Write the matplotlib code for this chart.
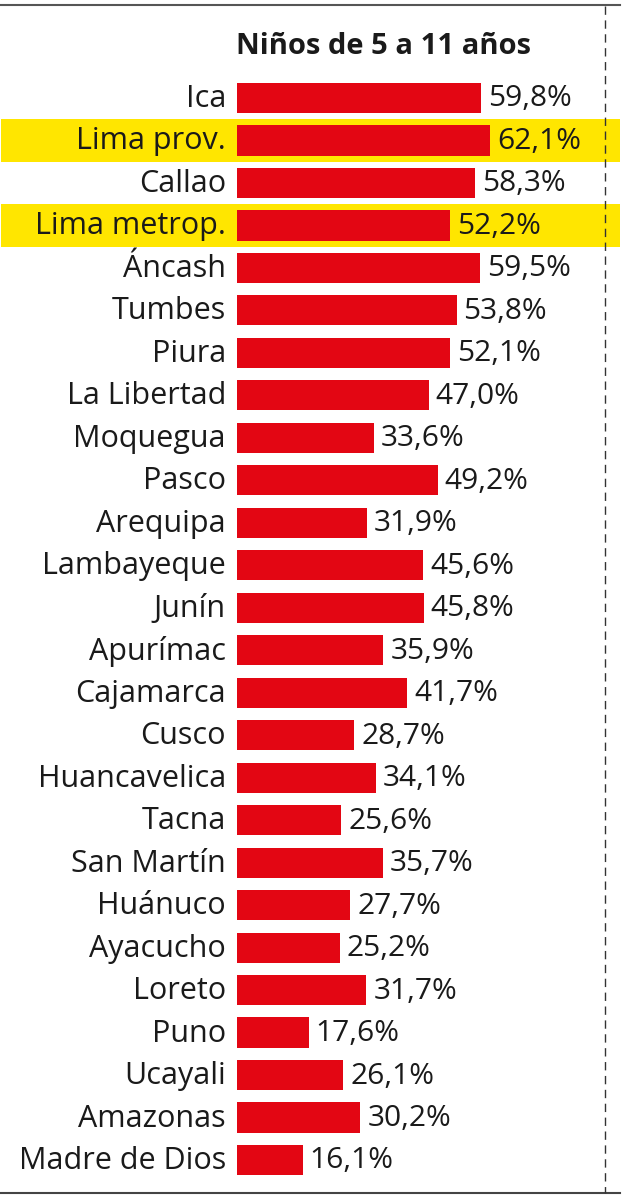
import matplotlib
matplotlib.use("Agg")
import matplotlib.pyplot as plt
from matplotlib.lines import Line2D

regions = ["Ica", "Lima prov.", "Callao", "Lima metrop.", "Áncash", "Tumbes", "Piura",
           "La Libertad", "Moquegua", "Pasco", "Arequipa", "Lambayeque", "Junín",
           "Apurímac", "Cajamarca", "Cusco", "Huancavelica", "Tacna", "San Martín",
           "Huánuco", "Ayacucho", "Loreto", "Puno", "Ucayali", "Amazonas", "Madre de Dios"]
values = [59.8, 62.1, 58.3, 52.2, 59.5, 53.8, 52.1, 47.0, 33.6, 49.2, 31.9, 45.6, 45.8,
          35.9, 41.7, 28.7, 34.1, 25.6, 35.7, 27.7, 25.2, 31.7, 17.6, 26.1, 30.2, 16.1]
highlighted = ["Lima prov.", "Lima metrop."]
title = "Niños de 5 a 11 años"

RED = "#E30613"
YELLOW = "#FFE600"
TEXT = "#1a1a1a"
FONT = "Open Sans"

W, H = 640, 1200
fig = plt.figure(figsize=(W / 100, H / 100), dpi=100)
fig.patch.set_facecolor("white")

# axes geometry in pixels
px_per_unit = 4.08
left_px, right_px = 237, 605
first_c, last_c = 98, 1160
n = len(regions)
step = (last_c - first_c) / (n - 1)
top_px = first_c - step / 2
bot_px = last_c + step / 2
ax = fig.add_axes([left_px / W, 1 - bot_px / H, (right_px - left_px) / W, (bot_px - top_px) / H])
ax.set_xlim(0, (right_px - left_px) / px_per_unit)
ax.set_ylim(n - 0.5, -0.5)
ax.axis("off")

ypos = list(range(n))
ax.barh(ypos, values, height=0.71, color=RED, zorder=2)

ax_w = right_px - left_px
for i, (r, v) in enumerate(zip(regions, values)):
    if r in highlighted:
        ax.axhspan(i - 0.5, i + 0.51, xmin=-(left_px - 1) / ax_w, xmax=(620 - left_px) / ax_w,
                   color=YELLOW, zorder=0, clip_on=False, lw=0)
    ax.annotate(r, (0, i), xytext=(-11, -1), textcoords="offset pixels", ha="right", va="center",
                fontsize=22, family=FONT, color=TEXT, annotation_clip=False)
    ax.annotate(f"{v:.1f}%".replace(".", ","), (v, i), xytext=(7, -1), textcoords="offset pixels",
                ha="left", va="center", fontsize=21.5, family=FONT, color=TEXT, annotation_clip=False)

fig.text(383 / W, 1 - 47 / H, title, ha="center", va="center", fontsize=21,
         fontweight="bold", family=FONT, color=TEXT)

# frame decorations
fig.add_artist(Line2D([0, 620 / W], [1 - 5 / H, 1 - 5 / H], transform=fig.transFigure,
                      color="#555555", lw=1.5))
fig.add_artist(Line2D([0, 620 / W], [1 - 1193 / H, 1 - 1193 / H], transform=fig.transFigure,
                      color="#444444", lw=1.5))
fig.add_artist(Line2D([605 / W, 605 / W], [1 - 6 / H, 1 - 1193 / H], transform=fig.transFigure,
                      color="#333333", lw=1.0, ls=(0, (6, 4)), zorder=5))

fig.savefig("out.png", dpi=100)
